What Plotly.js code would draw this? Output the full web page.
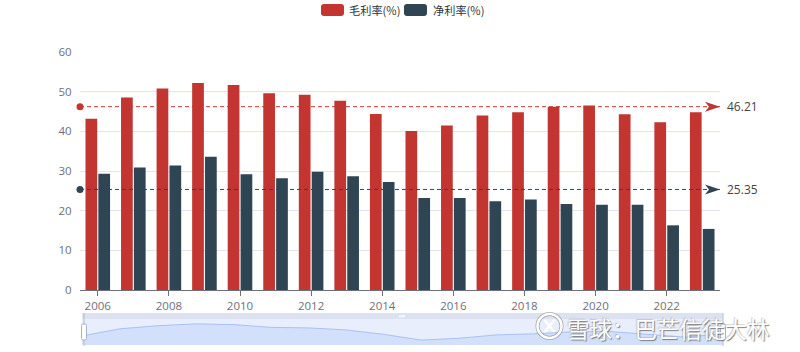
<!DOCTYPE html>
<html>
<head>
<meta charset="utf-8">
<script src="https://cdn.plot.ly/plotly-3.0.1.min.js"></script>
<style>
  html, body { margin: 0; padding: 0; background: #ffffff; }
  #chart { width: 800px; height: 352px; }
</style>
</head>
<body>
<div id="chart"></div>
<script>
// ---- Data ----
const years = [2006, 2007, 2008, 2009, 2010, 2011, 2012, 2013, 2014, 2015, 2016, 2017, 2018, 2019, 2020, 2021, 2022, 2023];
const grossMargin = [43.2, 48.5, 50.8, 52.2, 51.7, 49.6, 49.2, 47.7, 44.4, 40.1, 41.5, 44.0, 44.8, 46.2, 46.5, 44.3, 42.3, 44.8];
const netMargin = [29.3, 30.9, 31.4, 33.6, 29.2, 28.2, 29.8, 28.7, 27.2, 23.2, 23.2, 22.4, 22.8, 21.7, 21.5, 21.5, 16.3, 15.4];
const seriesNames = ['毛利率(%)', '净利率(%)'];
const xTickYears = [2006, 2008, 2010, 2012, 2014, 2016, 2018, 2020, 2022];
const yTicks = [0, 10, 20, 30, 40, 50, 60];
const watermarkText = '雪球：巴芒信徒大林';

// ---- Style ----
const RED = '#c23531';
const NAVY = '#2f4554';
const AXIS = '#6E7079';
const GRID = '#E0E6F1';
const FONT = 'Open Sans, Noto Sans CJK SC, sans-serif';
const W = 800, H = 352;
const px = x => x / W;
const py = y => 1 - y / H;

const mean = arr => arr.reduce((a, b) => a + b, 0) / arr.length;
const grossAvg = Math.round(mean(grossMargin) * 100) / 100;
const netAvg = Math.round(mean(netMargin) * 100) / 100;

const xMin = years[0] - 0.5, xMax = years[years.length - 1] + 0.5;

// slider shadow range (padded by 30% of the extent)
const gMin = Math.min(...grossMargin), gMax = Math.max(...grossMargin);
const pad = (gMax - gMin) * 0.3;

function roundRect(w, h, r) {
  const a = w / 2, b = h / 2;
  return `M${-a + r},${-b} H${a - r} Q${a},${-b} ${a},${-b + r} V${b - r} Q${a},${b} ${a - r},${b} H${-a + r} Q${-a},${b} ${-a},${b - r} V${-b + r} Q${-a},${-b} ${-a + r},${-b} Z`;
}

const traces = [
  {
    type: 'bar', name: seriesNames[0], x: years, y: grossMargin,
    marker: { color: RED, line: { width: 0 } }, hoverinfo: 'skip', xaxis: 'x', yaxis: 'y'
  },
  {
    type: 'bar', name: seriesNames[1], x: years, y: netMargin,
    marker: { color: NAVY, line: { width: 0 } }, hoverinfo: 'skip', xaxis: 'x', yaxis: 'y'
  },
  // mark-line start points
  {
    type: 'scatter', mode: 'markers', x: [xMin, xMin], y: [grossAvg, netAvg],
    marker: { color: [RED, NAVY], size: 7, line: { width: 0 } },
    cliponaxis: false, hoverinfo: 'skip', xaxis: 'x', yaxis: 'y'
  },
  // slider data shadow
  {
    type: 'scatter', mode: 'lines', x: years, y: grossMargin,
    line: { color: '#a9c1f5', width: 1 }, fill: 'tozeroy', fillcolor: '#d3e0fb',
    hoverinfo: 'skip', xaxis: 'x2', yaxis: 'y2', showlegend: false
  }
];

function markLine(val, color) {
  return [
    { type: 'line', xref: 'x', yref: 'y', x0: xMin, x1: xMax, y0: val, y1: val,
      line: { color: color, width: 1, dash: '4px,3px' } },
    { type: 'path', xref: 'x', yref: 'y', xsizemode: 'pixel', ysizemode: 'pixel',
      xanchor: xMax, yanchor: val, path: 'M0,0 L-15,5 L-11,0 L-15,-5 Z',
      fillcolor: color, line: { width: 0 } }
  ];
}

function handle(xc) {
  return [
    { type: 'line', xref: 'paper', yref: 'paper', layer: 'above',
      x0: px(xc), x1: px(xc), y0: py(313), y1: py(346), line: { color: '#b4bdd0', width: 1 } },
    { type: 'path', xref: 'paper', yref: 'paper', xsizemode: 'pixel', ysizemode: 'pixel',
      xanchor: px(xc), yanchor: py(332), path: roundRect(5, 16, 1.5), layer: 'above',
      fillcolor: '#ffffff', line: { color: '#aab3c6', width: 1 } }
  ];
}

const shapes = [
  // slider background
  { type: 'rect', xref: 'paper', yref: 'paper', layer: 'below',
    x0: px(82), x1: px(723), y0: py(345), y1: py(319), fillcolor: '#e8eefb', line: { width: 0 } },
  { type: 'rect', xref: 'paper', yref: 'paper', layer: 'below',
    x0: px(82), x1: px(723), y0: py(319), y1: py(313), fillcolor: '#dce2f0', line: { width: 0 } },
  { type: 'rect', xref: 'paper', yref: 'paper', layer: 'above',
    x0: px(399), x1: px(405), y0: py(317.5), y1: py(315), fillcolor: '#f3f5fa', line: { width: 0 } },
  ...handle(84),
  ...handle(723),
  // mark lines
  ...markLine(grossAvg, RED),
  ...markLine(netAvg, NAVY),
  // legend swatches
  { type: 'path', xref: 'paper', yref: 'paper', xsizemode: 'pixel', ysizemode: 'pixel',
    xanchor: px(332.5), yanchor: py(10), path: roundRect(23, 12, 3),
    fillcolor: RED, line: { width: 0 } },
  { type: 'path', xref: 'paper', yref: 'paper', xsizemode: 'pixel', ysizemode: 'pixel',
    xanchor: px(415.5), yanchor: py(10), path: roundRect(23, 12, 3),
    fillcolor: NAVY, line: { width: 0 } },
  // watermark logo
  { type: 'circle', xref: 'paper', yref: 'paper', layer: 'above',
    x0: px(537.5), x1: px(561.5), y0: py(338), y1: py(314),
    line: { color: 'rgba(140,140,140,0.7)', width: 4 } },
  { type: 'circle', xref: 'paper', yref: 'paper', layer: 'above',
    x0: px(537.5), x1: px(561.5), y0: py(338), y1: py(314),
    line: { color: '#ffffff', width: 2.5 } },
  { type: 'path', xref: 'paper', yref: 'paper', xsizemode: 'pixel', ysizemode: 'pixel', layer: 'above',
    xanchor: px(549.5), yanchor: py(326), path: 'M-5,-6 L5,6 M5,-6 L-5,6',
    line: { color: '#ffffff', width: 2.5 } }
];

const annotations = [
  { xref: 'x', yref: 'y', x: xMax, y: grossAvg, xshift: 5, xanchor: 'left', yanchor: 'middle',
    text: grossAvg.toFixed(2), showarrow: false, font: { family: FONT, size: 12, color: '#444' } },
  { xref: 'x', yref: 'y', x: xMax, y: netAvg, xshift: 5, xanchor: 'left', yanchor: 'middle',
    text: netAvg.toFixed(2), showarrow: false, font: { family: FONT, size: 12, color: '#444' } },
  { xref: 'paper', yref: 'paper', x: px(347), y: py(10), xanchor: 'left', yanchor: 'middle',
    text: seriesNames[0], showarrow: false, font: { family: 'Noto Sans CJK SC, sans-serif', size: 11.2, color: '#333' } },
  { xref: 'paper', yref: 'paper', x: px(431), y: py(10), xanchor: 'left', yanchor: 'middle',
    text: seriesNames[1], showarrow: false, font: { family: 'Noto Sans CJK SC, sans-serif', size: 11.2, color: '#333' } },
  { xref: 'paper', yref: 'paper', x: px(566), y: py(328), xanchor: 'left', yanchor: 'middle',
    text: watermarkText, showarrow: false, borderpad: 0,
    font: { family: 'Noto Sans CJK SC, sans-serif', size: 22.5, color: '#ffffff',
            shadow: '1px 1px 1px rgba(90,90,90,0.75), -1px -1px 1px rgba(160,160,160,0.5)' } }
];

const layout = {
  width: W, height: H,
  margin: { l: 0, r: 0, t: 0, b: 0, pad: 0 },
  paper_bgcolor: '#ffffff',
  plot_bgcolor: 'rgba(0,0,0,0)',
  showlegend: false,
  barmode: 'group',
  bargap: 0.276,
  bargroupgap: 0.09,
  font: { family: FONT, color: AXIS, size: 12 },
  xaxis: {
    domain: [px(80), px(720)],
    range: [xMin, xMax],
    type: 'linear',
    tickmode: 'array',
    tickvals: xTickYears,
    ticktext: xTickYears.map(String),
    ticks: 'outside', ticklen: 5, tickcolor: AXIS, tickwidth: 1,
    showline: true, linecolor: AXIS, linewidth: 1,
    showgrid: false, zeroline: false,
    tickfont: { family: FONT, size: 11.5, color: AXIS },
    fixedrange: true,
    anchor: 'y'
  },
  yaxis: {
    domain: [py(290), py(52)],
    range: [0, 60],
    tickmode: 'array',
    tickvals: yTicks,
    ticktext: yTicks.map(String),
    ticks: 'outside', ticklen: 5, tickcolor: 'rgba(0,0,0,0)',
    showline: false, showgrid: true, gridcolor: GRID, gridwidth: 1,
    zeroline: false,
    tickfont: { family: FONT, size: 11.5, color: AXIS },
    fixedrange: true,
    anchor: 'x'
  },
  xaxis2: {
    domain: [px(82), px(723)],
    range: [years[0], years[years.length - 1]],
    visible: false, fixedrange: true, anchor: 'y2'
  },
  yaxis2: {
    domain: [py(345), py(319)],
    range: [gMin - pad, gMax + pad],
    visible: false, fixedrange: true, anchor: 'x2'
  },
  shapes: shapes,
  annotations: annotations
};

Plotly.newPlot('chart', traces, layout, { displayModeBar: false, staticPlot: true });
</script>
</body>
</html>
